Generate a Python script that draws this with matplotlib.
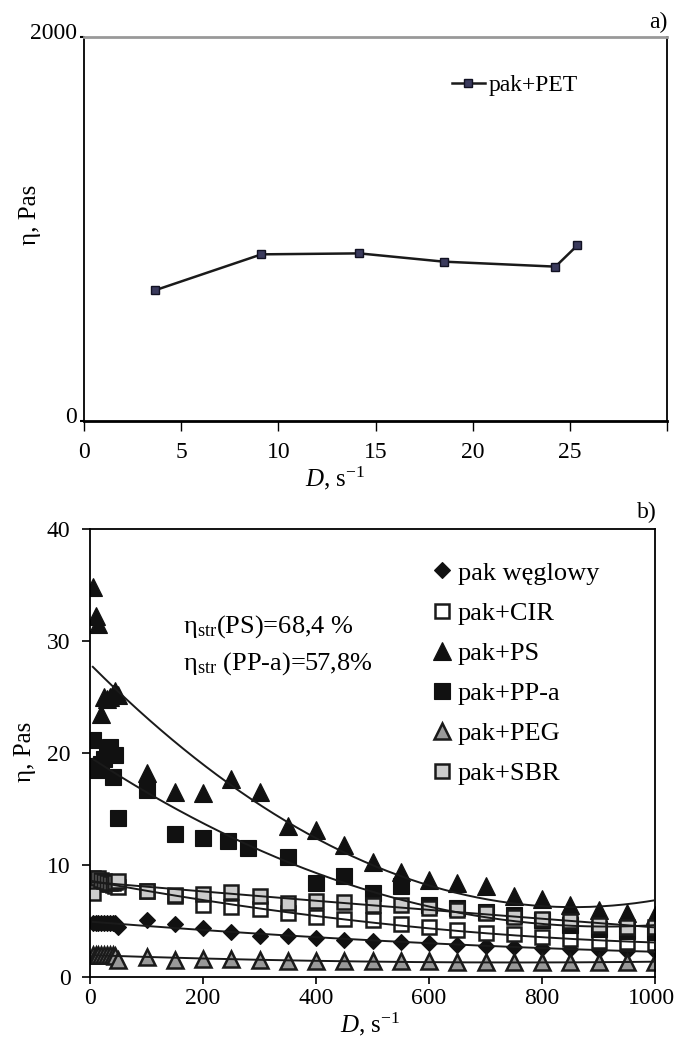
import matplotlib
matplotlib.use('Agg')
import matplotlib.pyplot as plt
import numpy as np
from matplotlib.transforms import ScaledTranslation

plt.rcParams['font.family'] = ['Liberation Serif', 'DejaVu Serif']
plt.rcParams['mathtext.fontset'] = 'custom'
plt.rcParams['mathtext.rm'] = 'Liberation Serif'
plt.rcParams['mathtext.it'] = 'Liberation Serif:italic'

# --- panel a) ---
pet_D = [3.66, 9.13, 14.17, 18.5, 24.26, 25.39]
pet_eta = [681, 868, 873, 830, 804, 915]

# --- panel b) ---
D_low = [5, 10, 15, 20, 25, 30, 35, 40, 45, 50]
D_high = [100, 150, 200, 250, 300, 350, 400, 450, 500, 550,
          600, 650, 700, 750, 800, 850, 900, 950, 1000]
D_ppa = [100, 150, 200, 245, 280, 350, 400, 450, 500, 550,
         600, 650, 700, 750, 800, 850, 900, 950, 1000]

wegl = [4.8, 4.8, 4.8, 4.8, 4.8, 4.8, 4.8, 4.8, 4.8, 4.5,
        5.1, 4.7, 4.35, 4.0, 3.7, 3.7, 3.5, 3.3, 3.2, 3.1,
        3.0, 2.9, 2.8, 2.7, 2.6, 2.5, 2.4, 2.3, 2.3]
cir = [8.8, 8.7, 8.6, 8.5, 8.4, 8.3, 8.3, 8.2, 8.1, 8.0,
       7.7, 7.2, 6.4, 6.25, 6.1, 5.7, 5.4, 5.2, 5.1, 4.7,
       4.5, 4.2, 3.9, 3.8, 3.6, 3.4, 3.2, 3.1, 3.0]
ps = [34.8, 32.2, 31.5, 23.5, 25.0, 24.8, 25.0, 25.3, 25.5, 25.2,
      18.2, 16.5, 16.4, 17.7, 16.5, 13.5, 13.1, 11.8, 10.3, 9.4,
      8.7, 8.4, 8.1, 7.2, 7.0, 6.4, 6.0, 5.7, 5.5]
ppa = [21.2, 18.8, 18.5, 19.0, 19.5, 20.3, 20.5, 17.9, 19.8, 14.2,
       16.7, 12.8, 12.4, 12.1, 11.5, 10.7, 8.4, 9.0, 7.5, 8.1,
       6.4, 6.2, 5.8, 5.5, 5.1, 4.6, 4.3, 4.1, 4.0]
peg = [2.0, 2.0, 2.0, 2.0, 2.0, 1.95, 1.95, 1.95, 1.9, 1.5,
       1.8, 1.5, 1.65, 1.6, 1.5, 1.4, 1.4, 1.4, 1.4, 1.4,
       1.4, 1.35, 1.35, 1.35, 1.35, 1.3, 1.3, 1.3, 1.3]
sbr = [7.5, 8.6, 8.8, 8.7, 8.6, 8.5, 8.4, 8.4, 8.5, 8.6,
       7.7, 7.3, 7.45, 7.6, 7.2, 6.6, 6.75, 6.7, 6.4, 6.4,
       6.2, 6.0, 5.7, 5.4, 5.2, 5.0, 4.6, 4.5, 4.5]

labels_b = ['pak węglowy', 'pak+CIR', 'pak+PS', 'pak+PP-a', 'pak+PEG', 'pak+SBR']

W, H = 675, 1041
fig = plt.figure(figsize=(W / 100, H / 100), dpi=100)

def px_axes(l, t, r, b):
    return fig.add_axes([l / W, 1 - b / H, (r - l) / W, (b - t) / H])

def shift(lab, dx, dy):
    lab.set_transform(lab.get_transform() + ScaledTranslation(dx / 100, dy / 100, fig.dpi_scale_trans))

# ---------------- a) ----------------
ax1 = px_axes(84, 37, 667, 421)
ax1.plot(pet_D, pet_eta, color='#1a1a1a', lw=1.8, marker='s', ms=6,
         mfc='#3a3a5c', mec='#111122', mew=1, label='pak+PET')
ax1.set_xlim(0, 30)
ax1.set_ylim(0, 2000)
ax1.set_xticks([0, 5, 10, 15, 20, 25, 30], ['0', '5', '10', '15', '20', '25', ''])
ax1.set_yticks([0, 2000])
ax1.spines['top'].set_color('#999999')
ax1.spines['top'].set_linewidth(2)
ax1.spines['bottom'].set_linewidth(2)
ax1.spines['left'].set_linewidth(1.3)
ax1.spines['right'].set_linewidth(1.3)
ax1.tick_params(axis='x', direction='out', length=7, width=1, labelsize=17, pad=8)
ax1.tick_params(axis='y', direction='out', length=3, width=1.5, labelsize=17, pad=2)
for lab in ax1.get_yticklabels():
    shift(lab, 0, 6)
ax1.set_ylabel('η, Pas', fontsize=18)
ax1.yaxis.set_label_coords(41 / W, 1 - 215 / H, transform=fig.transFigure)
ax1.set_xlabel('$D$, s$^{-1}$', fontsize=18)
ax1.xaxis.set_label_coords(335 / W, 1 - 465 / H, transform=fig.transFigure)
ax1.legend(loc='upper left', bbox_to_anchor=(440 / W, 1 - 63 / H),
           bbox_transform=fig.transFigure, frameon=False, fontsize=17,
           borderpad=0, handlelength=1.4, handletextpad=0.15)
fig.text(668 / W, 1 - 22 / H, 'a)', fontsize=17, ha='right', va='center')

# ---------------- b) ----------------
ax2 = px_axes(90, 529, 655, 977)
x_all = D_low + D_high
x_ppa = D_low + D_ppa
series = [
    (x_all, wegl, dict(marker='D', ms=8.5, mfc='#111111', mec='#111111', mew=0.8)),
    (x_all, cir, dict(marker='s', ms=10, mfc='white', mec='#1a1a1a', mew=1.8)),
    (x_all, ps, dict(marker='^', ms=13, mfc='#111111', mec='#111111', mew=0.8)),
    (x_ppa, ppa, dict(marker='s', ms=11, mfc='#111111', mec='#111111', mew=0.8)),
    (x_all, peg, dict(marker='^', ms=11, mfc='#999999', mec='#1a1a1a', mew=1.8)),
    (x_all, sbr, dict(marker='s', ms=10, mfc='#cccccc', mec='#1a1a1a', mew=1.8)),
]
for (xs, ys, style), lab in zip(series, labels_b):
    ax2.plot(xs, ys, ls='none', label=lab, **style)

# second-order polynomial trend lines
for xs, ys, _ in series:
    coef = np.polyfit(xs, ys, 2)
    xx = np.linspace(min(xs), max(xs), 200)
    ax2.plot(xx, np.polyval(coef, xx), color='#1a1a1a', lw=1.4, zorder=5)

ax2.set_xlim(0, 1000)
ax2.set_ylim(0, 40)
ax2.set_xticks(range(0, 1001, 200))
ax2.set_yticks(range(0, 41, 10))
for s in ax2.spines.values():
    s.set_linewidth(1.3)
ax2.tick_params(axis='x', direction='out', length=5, width=1.2, labelsize=17, pad=3)
ax2.tick_params(axis='y', direction='out', length=6, width=1.2, labelsize=17, pad=8)
shift(ax2.get_xticklabels()[-1], -4, 0)
ax2.set_ylabel('η, Pas', fontsize=18)
ax2.yaxis.set_label_coords(36 / W, 1 - 752 / H, transform=fig.transFigure)
ax2.set_xlabel('$D$, s$^{-1}$', fontsize=18)
ax2.xaxis.set_label_coords(370 / W, 1 - 1011 / H, transform=fig.transFigure)
ax2.legend(loc='upper left', bbox_to_anchor=(418 / W, 1 - 548 / H),
           bbox_transform=fig.transFigure, frameon=False, fontsize=19,
           borderpad=0, handlelength=0.8, handletextpad=0.2, labelspacing=0.63,
           numpoints=1)
ax2.text(165, 31.3, r'η$_{\rm str}$(PS)=68,4 %', fontsize=19, va='center')
ax2.text(165, 28.0, r'η$_{\rm str}$ (PP-a)=57,8%', fontsize=19, va='center')
fig.text(657 / W, 1 - 512 / H, 'b)', fontsize=17, ha='right', va='center')

plt.savefig('out.png', dpi=100)
